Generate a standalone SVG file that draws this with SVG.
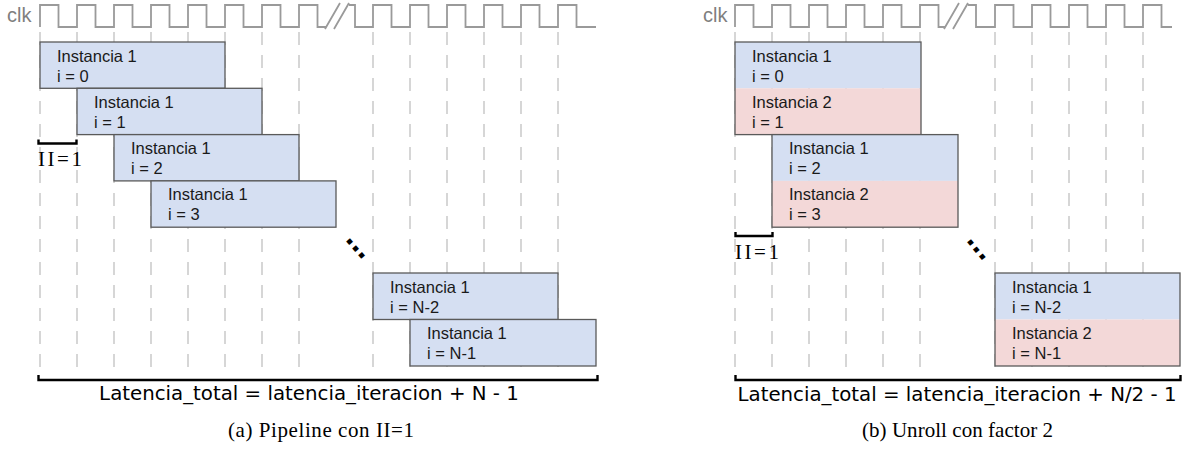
<svg xmlns="http://www.w3.org/2000/svg" width="1182" height="452" viewBox="0 0 1182 452">
  <style>
    .bg { fill: #ffffff; }
    .clkwave { fill: none; stroke: #9a9a9a; stroke-width: 1.8; stroke-linejoin: miter; }
    .clklabel { font-family: "Liberation Sans", Arial, sans-serif; font-size: 20px; fill: #7f7f7f; }
    .grid { stroke: #cccccc; stroke-width: 1.6; stroke-dasharray: 13 10; }
    .box { stroke: #5a5a5a; stroke-width: 1.3; }
    .blue { fill: #d5dff2; }
    .pink { fill: #f3d8d8; }
    .frame { fill: none; stroke: #5a5a5a; stroke-width: 1.3; }
    .lbl { font-family: "Liberation Sans", Arial, sans-serif; font-size: 16.5px; fill: #1a1a1a; }
    .brace { fill: none; stroke: #000000; stroke-width: 2.4; }
    .formula { font-family: "DejaVu Sans", Verdana, sans-serif; font-size: 19.8px; fill: #000000; text-anchor: middle; }
    .math { font-family: "Liberation Serif", "Times New Roman", serif; font-size: 21px; fill: #000000; }
    .caption { font-family: "Liberation Serif", "Times New Roman", serif; font-size: 21px; fill: #000000; }
    .dots { font-family: "Liberation Sans", Arial, sans-serif; font-size: 33px; font-weight: bold; fill: #000000; }
  </style>

  <rect class="bg" x="0" y="0" width="1182" height="452"/>

  <!-- ===== (a) Pipeline con II=1 ===== -->
  <g id="clock-a">
    <text class="clklabel" x="7" y="22">clk</text>
    <path class="clkwave" d="M40,27 V5 H58.5 V27 H77 V5 H95.5 V27 H114 V5 H132.5 V27 H151 V5 H169.5 V27 H188 V5 H206.5 V27 H225 V5 H243.5 V27 H262 V5 H280.5 V27 H299 V5 H317.5 V27 H326"/>
    <path class="clkwave" d="M325,29 L340,3 M334,29 L349,3"/>
    <path class="clkwave" d="M349,5 H355 V27 H373 V5 H391.5 V27 H410 V5 H428.5 V27 H447 V5 H465.5 V27 H484 V5 H502.5 V27 H521 V5 H539.5 V27 H558 V5 H576.5 V27 H596"/>
  </g>

  <g id="grid-a">
    <line class="grid" x1="40" y1="32" x2="40" y2="370"/>
    <line class="grid" x1="77" y1="32" x2="77" y2="370"/>
    <line class="grid" x1="114" y1="32" x2="114" y2="370"/>
    <line class="grid" x1="151" y1="32" x2="151" y2="370"/>
    <line class="grid" x1="188" y1="32" x2="188" y2="370"/>
    <line class="grid" x1="225" y1="32" x2="225" y2="370"/>
    <line class="grid" x1="262" y1="32" x2="262" y2="370"/>
    <line class="grid" x1="299" y1="32" x2="299" y2="370"/>
    <line class="grid" x1="373" y1="32" x2="373" y2="370"/>
    <line class="grid" x1="410" y1="32" x2="410" y2="370"/>
    <line class="grid" x1="447" y1="32" x2="447" y2="370"/>
    <line class="grid" x1="484" y1="32" x2="484" y2="370"/>
    <line class="grid" x1="521" y1="32" x2="521" y2="370"/>
    <line class="grid" x1="558" y1="32" x2="558" y2="370"/>
  </g>

  <g id="a-iter0">
    <rect class="box blue" x="40" y="42" width="185" height="46.3"/>
    <text class="lbl" x="57" y="61.5">Instancia 1</text>
    <text class="lbl" x="57" y="81.5">i = 0</text>
  </g>
  <g id="a-iter1">
    <rect class="box blue" x="77" y="88.3" width="185" height="46.3"/>
    <text class="lbl" x="94" y="107.8">Instancia 1</text>
    <text class="lbl" x="94" y="127.8">i = 1</text>
  </g>
  <g id="a-iter2">
    <rect class="box blue" x="114" y="134.6" width="185" height="46.3"/>
    <text class="lbl" x="131" y="154.1">Instancia 1</text>
    <text class="lbl" x="131" y="174.1">i = 2</text>
  </g>
  <g id="a-iter3">
    <rect class="box blue" x="151" y="180.9" width="185" height="46.3"/>
    <text class="lbl" x="168" y="200.4">Instancia 1</text>
    <text class="lbl" x="168" y="220.4">i = 3</text>
  </g>
  <g id="a-iterN2">
    <rect class="box blue" x="373" y="273" width="185" height="46.5"/>
    <text class="lbl" x="390" y="292.5">Instancia 1</text>
    <text class="lbl" x="390" y="312.5">i = N-2</text>
  </g>
  <g id="a-iterN1">
    <rect class="box blue" x="410" y="319.5" width="186" height="46.5"/>
    <text class="lbl" x="427" y="339">Instancia 1</text>
    <text class="lbl" x="427" y="359">i = N-1</text>
  </g>

  <text class="dots" transform="translate(349,242) rotate(49.4)" x="-4.5" y="1.7">...</text>

  <g id="a-annotations">
    <path class="brace" d="M38.5,139.5 V143.5 H76.5 V139.5"/>
    <text class="math" x="38" y="166" textLength="44" lengthAdjust="spacing">II=1</text>
    <path class="brace" d="M38.5,375 V380 H597.5 V375"/>
    <text class="formula" x="309" y="399.5">Latencia_total = latencia_iteracion + N - 1</text>
    <text class="caption" x="228" y="437" textLength="186" lengthAdjust="spacing">(a) Pipeline con II=1</text>
  </g>

  <!-- ===== (b) Unroll con factor 2 ===== -->
  <g id="clock-b">
    <text class="clklabel" x="703" y="22">clk</text>
    <path class="clkwave" d="M735,27 V5 H753.5 V27 H772 V5 H790.5 V27 H809 V5 H827.5 V27 H846 V5 H864.5 V27 H883 V5 H901.5 V27 H920 V5 H938.5 V27 H945"/>
    <path class="clkwave" d="M944,29 L959,3 M953,29 L968,3"/>
    <path class="clkwave" d="M968,5 H976 V27 H995 V5 H1013.5 V27 H1032 V5 H1050.5 V27 H1069 V5 H1087.5 V27 H1106 V5 H1124.5 V27 H1143 V5 H1161.5 V27 H1172"/>
  </g>

  <g id="grid-b">
    <line class="grid" x1="735" y1="32" x2="735" y2="370"/>
    <line class="grid" x1="772" y1="32" x2="772" y2="370"/>
    <line class="grid" x1="809" y1="32" x2="809" y2="370"/>
    <line class="grid" x1="846" y1="32" x2="846" y2="370"/>
    <line class="grid" x1="883" y1="32" x2="883" y2="370"/>
    <line class="grid" x1="920" y1="32" x2="920" y2="370"/>
    <line class="grid" x1="995" y1="32" x2="995" y2="370"/>
    <line class="grid" x1="1032" y1="32" x2="1032" y2="370"/>
    <line class="grid" x1="1069" y1="32" x2="1069" y2="370"/>
    <line class="grid" x1="1106" y1="32" x2="1106" y2="370"/>
    <line class="grid" x1="1143" y1="32" x2="1143" y2="370"/>
  </g>

  <g id="b-iter01">
    <rect class="blue" x="735" y="42" width="186" height="46.3"/>
    <rect class="pink" x="735" y="88.3" width="186" height="46.3"/>
    <rect class="frame" x="735" y="42" width="186" height="92.6"/>
    <text class="lbl" x="752" y="61.5">Instancia 1</text>
    <text class="lbl" x="752" y="81.5">i = 0</text>
    <text class="lbl" x="752" y="107.8">Instancia 2</text>
    <text class="lbl" x="752" y="127.8">i = 1</text>
  </g>
  <g id="b-iter23">
    <rect class="blue" x="772" y="134.6" width="186" height="46.3"/>
    <rect class="pink" x="772" y="180.9" width="186" height="46.3"/>
    <rect class="frame" x="772" y="134.6" width="186" height="92.6"/>
    <text class="lbl" x="789" y="154.1">Instancia 1</text>
    <text class="lbl" x="789" y="174.1">i = 2</text>
    <text class="lbl" x="789" y="200.4">Instancia 2</text>
    <text class="lbl" x="789" y="220.4">i = 3</text>
  </g>
  <g id="b-iterN">
    <rect class="blue" x="995" y="273" width="185" height="46.5"/>
    <rect class="pink" x="995" y="319.5" width="185" height="46.5"/>
    <rect class="frame" x="995" y="273" width="185" height="93"/>
    <text class="lbl" x="1012" y="292.5">Instancia 1</text>
    <text class="lbl" x="1012" y="312.5">i = N-2</text>
    <text class="lbl" x="1012" y="339">Instancia 2</text>
    <text class="lbl" x="1012" y="359">i = N-1</text>
  </g>

  <text class="dots" transform="translate(970,243) rotate(51)" x="-4.5" y="1.7">...</text>

  <g id="b-annotations">
    <path class="brace" d="M735.5,232 V236 H772.5 V232"/>
    <text class="math" x="735" y="259" textLength="44" lengthAdjust="spacing">II=1</text>
    <path class="brace" d="M735.5,375 V380 H1180.5 V375"/>
    <text class="formula" x="957" y="401">Latencia_total = latencia_iteracion + N/2 - 1</text>
    <text class="caption" x="862" y="437" textLength="191" lengthAdjust="spacing">(b) Unroll con factor 2</text>
  </g>
</svg>
